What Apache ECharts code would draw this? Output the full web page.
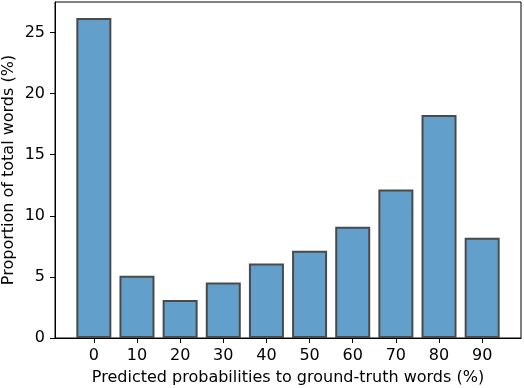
<!DOCTYPE html>
<html>
<head>
<meta charset="utf-8">
<script src="https://cdn.jsdelivr.net/npm/echarts@6/dist/echarts.min.js"></script>
<style>
  html, body { margin: 0; padding: 0; background: #fff; }
  #main { width: 524px; height: 388px; }
</style>
</head>
<body>
<div id="main"></div>
<script>
  // bins of predicted probability (%), left edge of each bin
  const bins = [0, 10, 20, 30, 40, 50, 60, 70, 80, 90];
  const proportions = [26.2, 5.1, 3.1, 4.55, 6.1, 7.15, 9.1, 12.15, 18.25, 8.2];
  const yTicks = [0, 5, 10, 15, 20, 25];

  const font = 'DejaVu Sans';
  const chart = echarts.init(document.getElementById('main'));

  chart.setOption({
    animation: false,
    grid: {
      left: 55, right: 3, top: 2, bottom: 50,
      outerBoundsMode: 'none',
      containLabel: false,
      show: true, borderColor: '#000', borderWidth: 1
    },
    xAxis: {
      type: 'value',
      min: -9, max: 99,
      name: 'Predicted probabilities to ground-truth words (%)',
      nameLocation: 'middle',
      nameGap: 32,
      nameMoveOverlap: false,
      nameTextStyle: { fontFamily: font, fontSize: 16, color: '#000' },
      splitLine: { show: false },
      axisLine: { lineStyle: { color: '#000', width: 1 } },
      axisTick: { customValues: bins, length: 5, lineStyle: { color: '#000' } },
      axisLabel: { customValues: bins, fontFamily: font, fontSize: 16, color: '#000', margin: 10 }
    },
    yAxis: {
      type: 'value',
      min: 0, max: 27.5,
      name: 'Proportion of total words (%)',
      nameLocation: 'middle',
      nameGap: 38,
      nameMoveOverlap: false,
      nameTextStyle: { fontFamily: font, fontSize: 16, color: '#000' },
      splitLine: { show: false },
      axisLine: { show: true, onZero: false, lineStyle: { color: '#000', width: 1 } },
      axisTick: { show: true, customValues: yTicks, length: 5, lineStyle: { color: '#000' } },
      axisLabel: { customValues: yTicks, fontFamily: font, fontSize: 16, color: '#000', margin: 10 }
    },
    series: [{
      type: 'bar',
      data: bins.map((b, i) => [b, proportions[i]]),
      barWidth: 35,
      itemStyle: {
        color: '#62a0cb',
        borderColor: '#4a4a4a',
        borderWidth: 2
      }
    }]
  });
</script>
</body>
</html>
